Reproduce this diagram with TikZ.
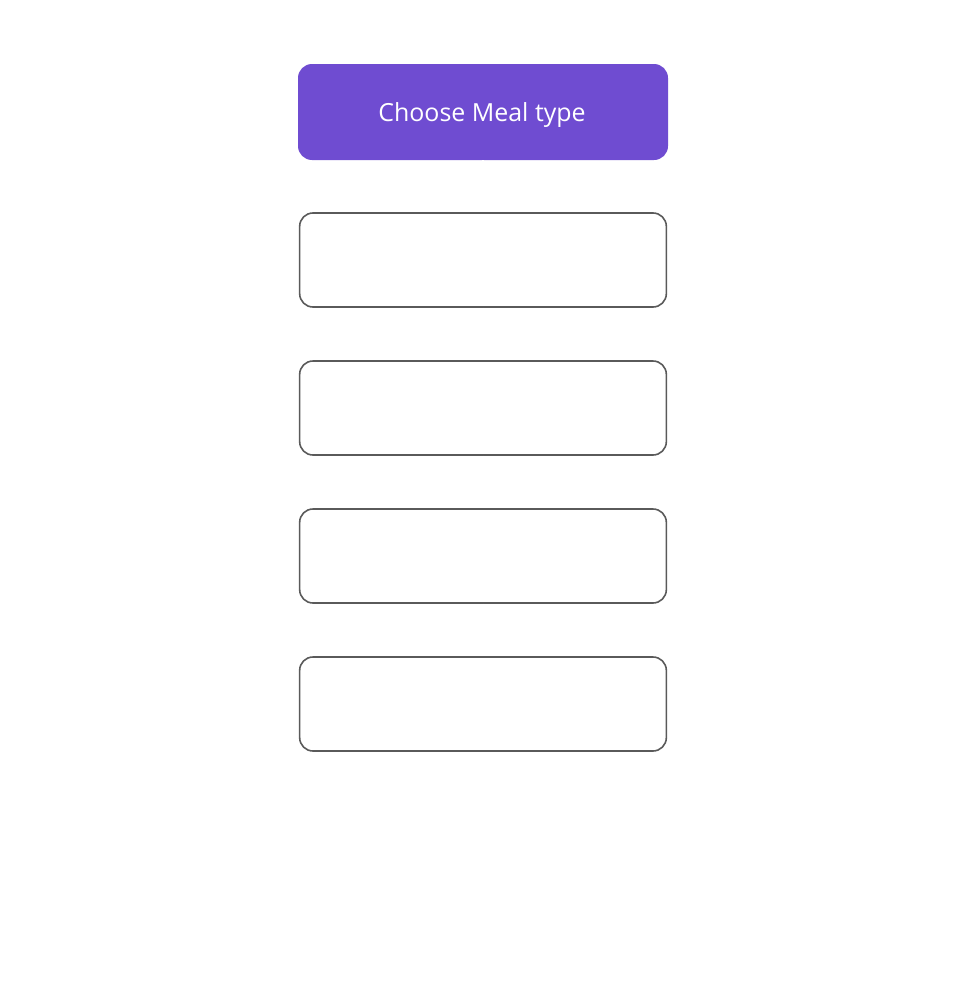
\documentclass[tikz,border=0pt]{standalone}
\usepackage{fontspec}
\setmainfont{Open Sans}
\definecolor{mealpurple}{HTML}{6F4CD1}
\definecolor{boxgray}{HTML}{5A5A5A}
\begin{document}
\begin{tikzpicture}[x=0.75pt,y=-0.75pt,
  topbox/.style={rectangle, rounded corners=10.5pt, fill=mealpurple, draw=none,
    minimum width=277.5pt, minimum height=72pt, inner sep=0pt},
  toptext/.style={text=white, font=\fontsize{18.7}{22}\selectfont, inner sep=0pt},
  emptybox/.style={rectangle, rounded corners=10pt, draw=boxgray, line width=1.2pt, fill=white,
    minimum width=275pt, minimum height=70.5pt, inner sep=0pt},
  link/.style={draw=white, line width=1.1pt}]
\useasboundingbox (0,0) rectangle (964,992);
\node[topbox] (n0) at (483,112) {};
\node[toptext] (t0) at (482,115) {Choose Meal type};
\node[emptybox] (n1) at (483,260) {};
\node[emptybox] (n2) at (483,408) {};
\node[emptybox] (n3) at (483,556) {};
\node[emptybox] (n4) at (483,704) {};
\draw[link] (n0.south) -- (n1.north);
\draw[link] (n1.south) -- (n2.north);
\draw[link] (n2.south) -- (n3.north);
\draw[link] (n3.south) -- (n4.north);
\end{tikzpicture}
\end{document}
